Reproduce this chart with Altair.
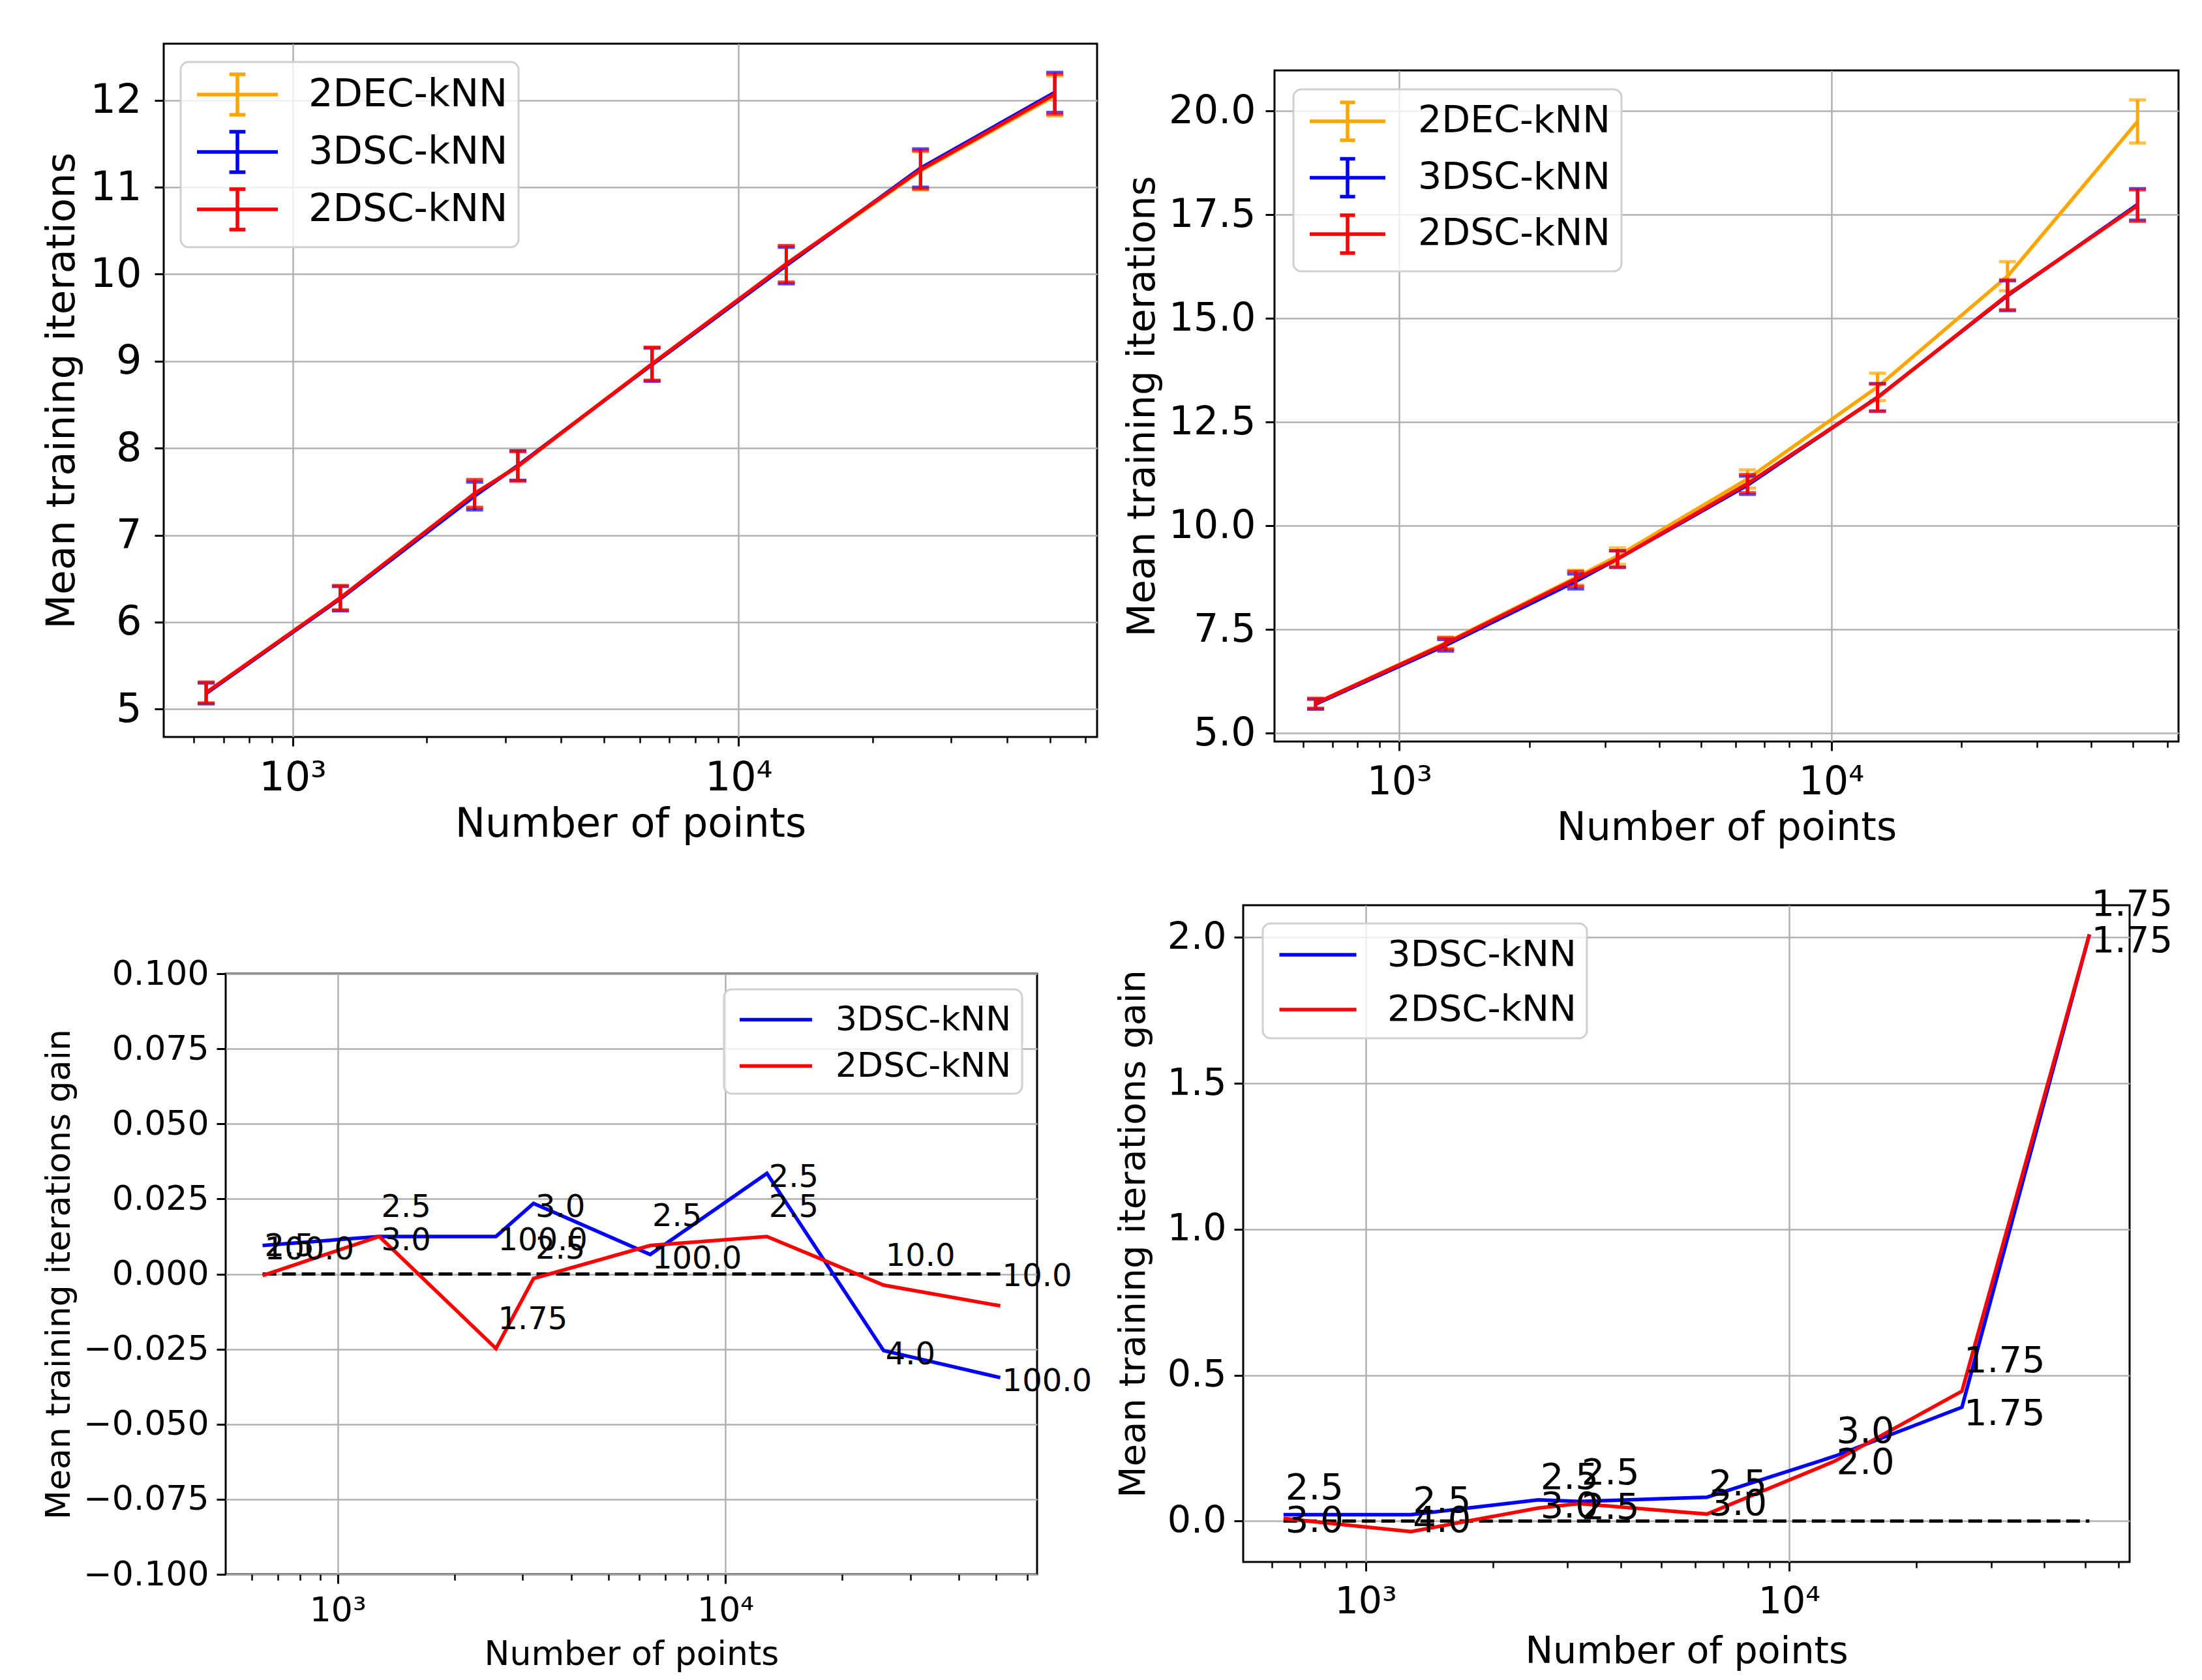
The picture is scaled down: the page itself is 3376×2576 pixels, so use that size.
import altair as alt
import pandas as pd

# number of points, shared by every panel
n_points = [640, 1280, 2560, 3200, 6400, 12800, 25600, 51200]

# top left: mean training iterations
tl_2dec = [5.19, 6.28, 7.47, 7.80, 8.97, 10.11, 11.19, 12.05]
tl_3dsc = [5.18, 6.27, 7.45, 7.80, 8.96, 10.10, 11.22, 12.09]
tl_2dsc = [5.19, 6.28, 7.48, 7.79, 8.97, 10.12, 11.20, 12.07]
tl_err_2dec = [0.12, 0.14, 0.16, 0.17, 0.19, 0.21, 0.22, 0.23]
tl_err_3dsc = [0.12, 0.14, 0.16, 0.17, 0.19, 0.21, 0.22, 0.23]
tl_err_2dsc = [0.12, 0.14, 0.16, 0.17, 0.19, 0.21, 0.22, 0.23]
tl_ticks = [5, 6, 7, 8, 9, 10, 11, 12]

# top right: mean training iterations
tr_2dec = [5.72, 7.18, 8.75, 9.27, 11.13, 13.35, 16.02, 19.75]
tr_3dsc = [5.70, 7.12, 8.66, 9.20, 10.98, 13.10, 15.55, 17.75]
tr_2dsc = [5.72, 7.16, 8.72, 9.20, 11.02, 13.09, 15.57, 17.72]
tr_err_2dec = [0.12, 0.14, 0.18, 0.20, 0.22, 0.33, 0.35, 0.52]
tr_err_3dsc = [0.12, 0.14, 0.18, 0.20, 0.22, 0.33, 0.36, 0.38]
tr_err_2dsc = [0.12, 0.14, 0.18, 0.20, 0.22, 0.33, 0.36, 0.38]
tr_ticks = [5.0, 7.5, 10.0, 12.5, 15.0, 17.5, 20.0]

# bottom left: gain, with the k value written at each point
bl_gain_3dsc = [0.0095, 0.0125, 0.0125, 0.0235, 0.0065, 0.0335, -0.0255, -0.0345]
bl_gain_2dsc = [-0.0005, 0.0125, -0.0248, -0.0015, 0.0095, 0.0125, -0.0037, -0.0106]
bl_k_3dsc = [100.0, 3.0, 100.0, 3.0, 100.0, 2.5, 4.0, 100.0]
bl_k_2dsc = [2.5, 2.5, 1.75, 2.5, 2.5, 2.5, 10.0, 10.0]
bl_ticks = [-0.1, -0.075, -0.05, -0.025, 0.0, 0.025, 0.05, 0.075, 0.1]

# bottom right: gain, with the k value written at each point
br_gain_3dsc = [0.022, 0.022, 0.073, 0.067, 0.082, 0.222, 0.39, 2.01]
br_gain_2dsc = [0.009, -0.036, 0.045, 0.06, 0.024, 0.205, 0.445, 2.01]
br_k_3dsc = [3.0, 4.0, 3.0, 2.5, 3.0, 2.0, 1.75, 1.75]
br_k_2dsc = [2.5, 2.5, 2.5, 2.5, 2.5, 3.0, 1.75, 1.75]
br_ticks = [0.0, 0.5, 1.0, 1.5, 2.0]

x_major = [1000, 10000]
x_minor = [600, 700, 800, 900, 2000, 3000, 4000, 5000, 6000, 7000, 8000, 9000,
           20000, 30000, 40000, 50000, 60000]

FONT = "DejaVu Sans"
GRID = "#b0b0b0"
ERR_SYMBOL = "M-2,0H2M0,-1V1M-0.4,-1H0.4M-0.4,1H0.4"
LINE_SYMBOL = "M-2,0H2"


def x_scale():
    return alt.Scale(type="log", domain=[514, 63700], nice=False)


def x_main(fs, label_pad, title_pad):
    return alt.X("n:Q", scale=x_scale(), axis=alt.Axis(
        values=x_major, labelExpr="datum.value == 1000 ? '10³' : '10⁴'",
        orient="bottom", grid=True, gridColor=GRID, gridWidth=2.5, domain=False,
        tickColor="black", tickWidth=3, tickSize=14, labelFont=FONT,
        labelFontSize=fs, labelColor="black", labelPadding=label_pad, labelLimit=1000,
        title="Number of points", titleFont=FONT, titleFontSize=fs,
        titleFontWeight="normal", titleColor="black", titlePadding=title_pad))


def x_small():
    return alt.X("n:Q", scale=x_scale(), axis=alt.Axis(
        values=x_minor, orient="bottom", labels=False, grid=False, domain=False,
        tickColor="black", tickWidth=2.5, tickSize=9, title=None))


def x_plain():
    return alt.X("n:Q", scale=x_scale(), axis=None)


def y_enc(field, domain, ticks, fmt, fs, tfs, title, label_pad, title_pad):
    # matplotlib writes negative ticks with a real minus sign
    return alt.Y(f"{field}:Q", scale=alt.Scale(domain=domain, nice=False, zero=False),
                 axis=alt.Axis(values=ticks, format=fmt,
                               labelExpr="replace(datum.label, '-', '−')",
                               grid=True, gridColor=GRID,
                               gridWidth=2.5, domain=False, tickColor="black",
                               tickWidth=3, tickSize=14, labelFont=FONT,
                               labelFontSize=fs, labelColor="black",
                               labelPadding=label_pad, labelLimit=1000,
                               title=title, titleFont=FONT, titleFontSize=tfs,
                               titleFontWeight="normal", titleColor="black",
                               titlePadding=title_pad))


def make_legend(symbol, size, fs, lx, ly, pad, row_pad, sym_off, lab_off):
    return alt.Legend(title=None, orient="none", legendX=lx, legendY=ly,
                      symbolType=symbol, symbolSize=size, symbolStrokeWidth=5.5,
                      labelFont=FONT, labelFontSize=fs, labelColor="black",
                      labelLimit=1000, padding=pad, rowPadding=row_pad,
                      symbolOffset=sym_off, labelOffset=lab_off,
                      fillColor="rgba(255,255,255,0.8)", strokeColor="#d0d0d0",
                      cornerRadius=12)


def iterations_panel(values, errs, y_domain, y_ticks, y_fmt, fonts, pads, legend,
                     width, height):
    tick_fs, title_fs = fonts
    x_lp, x_tp, y_lp, y_tp = pads
    names = ["2DEC-kNN", "3DSC-kNN", "2DSC-kNN"]
    colors = ["orange", "blue", "red"]
    scale = alt.Scale(domain=names, range=colors)

    def y(field):
        return y_enc(field, y_domain, y_ticks, y_fmt, tick_fs, title_fs,
                     "Mean training iterations", y_lp, y_tp)

    layers = []
    for i, (name, vals, err) in enumerate(zip(names, values, errs)):
        df = pd.DataFrame({"n": n_points, "series": name, "value": vals,
                           "lo": [v - e for v, e in zip(vals, err)],
                           "hi": [v + e for v, e in zip(vals, err)]})
        base = alt.Chart(df)
        line = base.mark_line(strokeWidth=5.5).encode(
            x=x_main(tick_fs, x_lp, x_tp) if i == 0 else x_plain(), y=y("value"),
            color=alt.Color("series:N", scale=scale, legend=legend))
        bars = base.mark_rule(strokeWidth=5).encode(
            x=x_small() if i == 0 else x_plain(), y=y("lo"), y2="hi:Q",
            color=alt.Color("series:N", scale=scale, legend=None))
        cap_lo = base.mark_tick(orient="horizontal", size=26, thickness=5).encode(
            x=x_plain(), y=y("lo"),
            color=alt.Color("series:N", scale=scale, legend=None))
        cap_hi = base.mark_tick(orient="horizontal", size=26, thickness=5).encode(
            x=x_plain(), y=y("hi"),
            color=alt.Color("series:N", scale=scale, legend=None))
        layers += [line, bars, cap_lo, cap_hi]
    return alt.layer(*layers).resolve_axis(x="independent").properties(
        width=width, height=height)


def gain_panel(gains, ks, y_domain, y_ticks, y_fmt, fonts, pads, legend, dys,
               width, height):
    tick_fs, title_fs, text_fs = fonts
    x_lp, x_tp, y_lp, y_tp = pads
    names = ["3DSC-kNN", "2DSC-kNN"]
    scale = alt.Scale(domain=names, range=["blue", "red"])

    def y(field):
        return y_enc(field, y_domain, y_ticks, y_fmt, tick_fs, title_fs,
                     "Mean training iterations gain", y_lp, y_tp)

    zero = pd.DataFrame({"n": [n_points[0], n_points[-1]], "gain": [0.0, 0.0]})
    layers = [alt.Chart(zero).mark_line(color="black", strokeDash=[21, 9],
                                        strokeWidth=5).encode(x=x_small(), y=y("gain"))]
    texts = []
    for i, (name, vals, k, dy) in enumerate(zip(names, gains, ks, dys)):
        df = pd.DataFrame({"n": n_points, "series": name, "gain": vals,
                           "label": [str(v) for v in k]})
        base = alt.Chart(df)
        layers.append(base.mark_line(strokeWidth=5.5).encode(
            x=x_main(tick_fs, x_lp, x_tp) if i == 0 else x_plain(), y=y("gain"),
            color=alt.Color("series:N", scale=scale, legend=legend)))
        texts.append(base.mark_text(align="left", baseline="middle", dx=3, dy=dy,
                                    font=FONT, fontSize=text_fs, color="black").encode(
            x=x_plain(), y=y("gain"), text="label:N"))
    return alt.layer(*(layers + texts)).resolve_axis(x="independent").properties(
        width=width, height=height)


def spacer(w, h):
    # empty cell used only to shift the panels inside the grid
    return alt.Chart(pd.DataFrame({"v": [0]})).mark_point(size=0, opacity=0).encode(
        x=alt.value(0), y=alt.value(0)
    ).properties(width=w, height=h, view=alt.ViewBackground(strokeOpacity=0))


top_left = iterations_panel(
    [tl_2dec, tl_3dsc, tl_2dsc], [tl_err_2dec, tl_err_3dsc, tl_err_2dsc],
    [4.68, 12.65], tl_ticks, "d", (62, 61), (18, 10, 20, 12),
    make_legend(ERR_SYMBOL, 3844, 59, 26, 28, 16, 4, 37, 75), 1431, 1063)

top_right = iterations_panel(
    [tr_2dec, tr_3dsc, tr_2dsc], [tr_err_2dec, tr_err_3dsc, tr_err_2dsc],
    [4.8, 20.98], tr_ticks, ".1f", (60, 59), (19, 11, 15, 10),
    make_legend(ERR_SYMBOL, 3364, 57, 29, 29, 17, 6.5, 34, 76), 1386, 1029)

bottom_left = gain_panel(
    [bl_gain_3dsc, bl_gain_2dsc], [bl_k_3dsc, bl_k_2dsc],
    [-0.1, 0.1], bl_ticks, ".3f", (52, 52, 48), (16, 16, 12, 29),
    make_legend(LINE_SYMBOL, 3080, 52, 764, 24, 16, 14, 33, 61), (7, -44),
    1244, 921)

bottom_right = gain_panel(
    [br_gain_3dsc, br_gain_2dsc], [br_k_3dsc, br_k_2dsc],
    [-0.14, 2.11], br_ticks, ".1f", (57, 56, 56), (19, 20, 12, 23),
    make_legend(LINE_SYMBOL, 3481, 56, 30, 28, 15.5, 23, 36.5, 74), (10, -46),
    1359, 1007)

# the right plot of the top row sits lower, the left plot of the bottom row too
right_top = alt.vconcat(spacer(1, 39), top_right, spacing=0).resolve_scale(
    color="independent")
left_bottom = alt.vconcat(spacer(1, 77), bottom_left, spacing=0).resolve_scale(
    color="independent")

top_row = alt.hconcat(spacer(18, 1), top_left, right_top,
                      spacing=36).resolve_scale(color="independent")
bottom_row = alt.hconcat(spacer(23, 1), left_bottom, bottom_right,
                         spacing=31).resolve_scale(color="independent")

chart = alt.vconcat(top_row, bottom_row, spacing=56).resolve_scale(
    color="independent"
).properties(
    padding={"left": 0, "top": 57, "right": 0, "bottom": 0}
).configure_view(
    stroke="black", strokeWidth=3
).configure_legend(
    strokeWidth=3
)

chart.save("out.html", embed_options={"renderer": "svg", "actions": False})
